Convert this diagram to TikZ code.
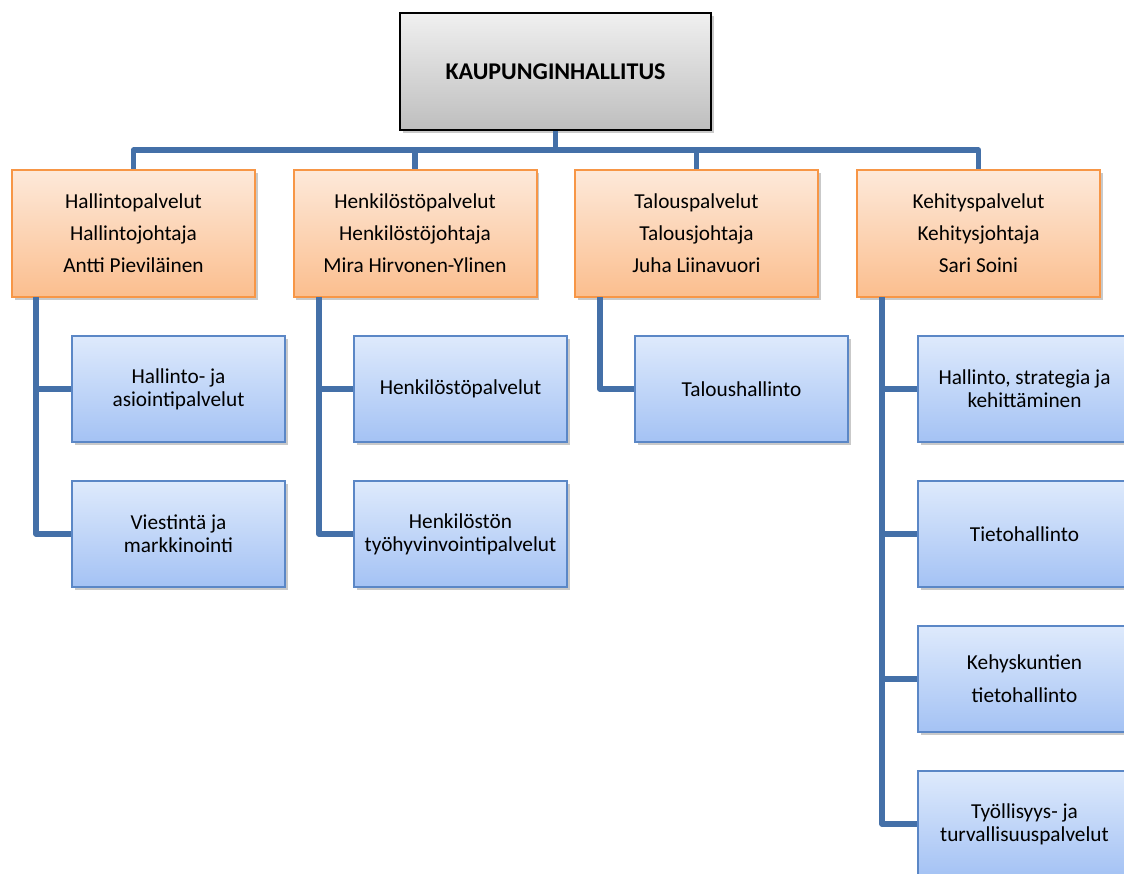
\documentclass[tikz,border=0pt]{standalone}
\usepackage{fontspec}
\setmainfont{Carlito}
\usetikzlibrary{shadows}
\definecolor{connc}{HTML}{4470A8}
\definecolor{orbord}{HTML}{F79646}
\definecolor{ortop}{HTML}{FDE9DA}
\definecolor{orbot}{HTML}{FBBE8E}
\definecolor{blbord}{HTML}{5B87C6}
\definecolor{bltop}{HTML}{DEEAFC}
\definecolor{blbot}{HTML}{A4C2F4}
\definecolor{grtop}{HTML}{F0F0F0}
\definecolor{grbot}{HTML}{BEBEBE}
\tikzset{
  shad/.style={drop shadow={shadow xshift=2.5pt, shadow yshift=-3pt, opacity=0.3, fill=black!70}},
  topbox/.style={shad, draw=black, line width=2pt, top color=grtop, bottom color=grbot,
    minimum width=311pt, minimum height=117pt, inner sep=0pt,
    font=\fontsize{24}{28}\selectfont\bfseries},
  orbox/.style={shad, draw=orbord, line width=2pt, top color=ortop, bottom color=orbot,
    minimum width=243pt, minimum height=127pt, inner sep=0pt, align=center,
    font=\fontsize{21.3}{32}\selectfont},
  blbox/.style={shad, draw=blbord, line width=1.6pt, top color=bltop, bottom color=blbot,
    minimum width=213pt, minimum height=106pt, inner sep=0pt, align=center,
    font=\fontsize{21.3}{23}\selectfont},
  conn/.style={draw=connc, line width=5.5pt, line join=round}
}
\begin{document}
\begin{tikzpicture}[x=1pt,y=-1pt]
\useasboundingbox (0,0) rectangle (1124,874);
\clip (0,0) rectangle (1124,874);
% connector anchors
\coordinate (bar) at (555.5,150);
\coordinate (s1) at (36,297);
\coordinate (s2) at (319,297);
\coordinate (s3) at (600,297);
\coordinate (s4) at (882,297);
% nodes
\node[topbox] (top) at (555.5,71.5) {KAUPUNGINHALLITUS};
\node[orbox] (o1) at (133.5,233.5) {Hallintopalvelut\\Hallintojohtaja\\Antti Pieviläinen};
\node[orbox] (o2) at (415,233.5) {Henkilöstöpalvelut\\Henkilöstöjohtaja\\Mira Hirvonen-Ylinen};
\node[orbox] (o3) at (696.5,233.5) {Talouspalvelut\\Talousjohtaja\\Juha Liinavuori};
\node[orbox] (o4) at (978.5,233.5) {Kehityspalvelut\\Kehitysjohtaja\\Sari Soini};

\node[blbox] (b11) at (178.5,389) {Hallinto- ja\\asiointipalvelut};
\node[blbox] (b12) at (178.5,534) {Viestintä ja\\markkinointi};
\node[blbox] (b21) at (460.5,389) {Henkilöstöpalvelut};
\node[blbox] (b22) at (460.5,534) {Henkilöstön\\työhyvinvointipalvelut};
\node[blbox] (b31) at (741.5,389) {Taloushallinto};
\node[blbox] (b41) at (1024.5,389) {Hallinto, strategia ja\\kehittäminen};
\node[blbox] (b42) at (1024.5,534) {Tietohallinto};
\node[blbox, font=\fontsize{21.3}{33}\selectfont] (b43) at (1024.5,679) {Kehyskuntien\\tietohallinto};
\node[blbox] (b44) at (1024.5,824) {Työllisyys- ja\\turvallisuuspalvelut};

% connector lines
\draw[conn] (top.south) -- (bar);
\draw[conn] (o1.north) |- (bar) -| (o4.north);
\draw[conn] (o2.north) -- (o2.north |- bar);
\draw[conn] (o3.north) -- (o3.north |- bar);

\draw[conn] (s1) |- (b12.west);
\draw[conn] (s1 |- b11.west) -- (b11.west);
\draw[conn] (s2) |- (b22.west);
\draw[conn] (s2 |- b21.west) -- (b21.west);
\draw[conn] (s3) |- (b31.west);
\draw[conn] (s4) |- (b44.west);
\draw[conn] (s4 |- b41.west) -- (b41.west);
\draw[conn] (s4 |- b42.west) -- (b42.west);
\draw[conn] (s4 |- b43.west) -- (b43.west);
\end{tikzpicture}
\end{document}
